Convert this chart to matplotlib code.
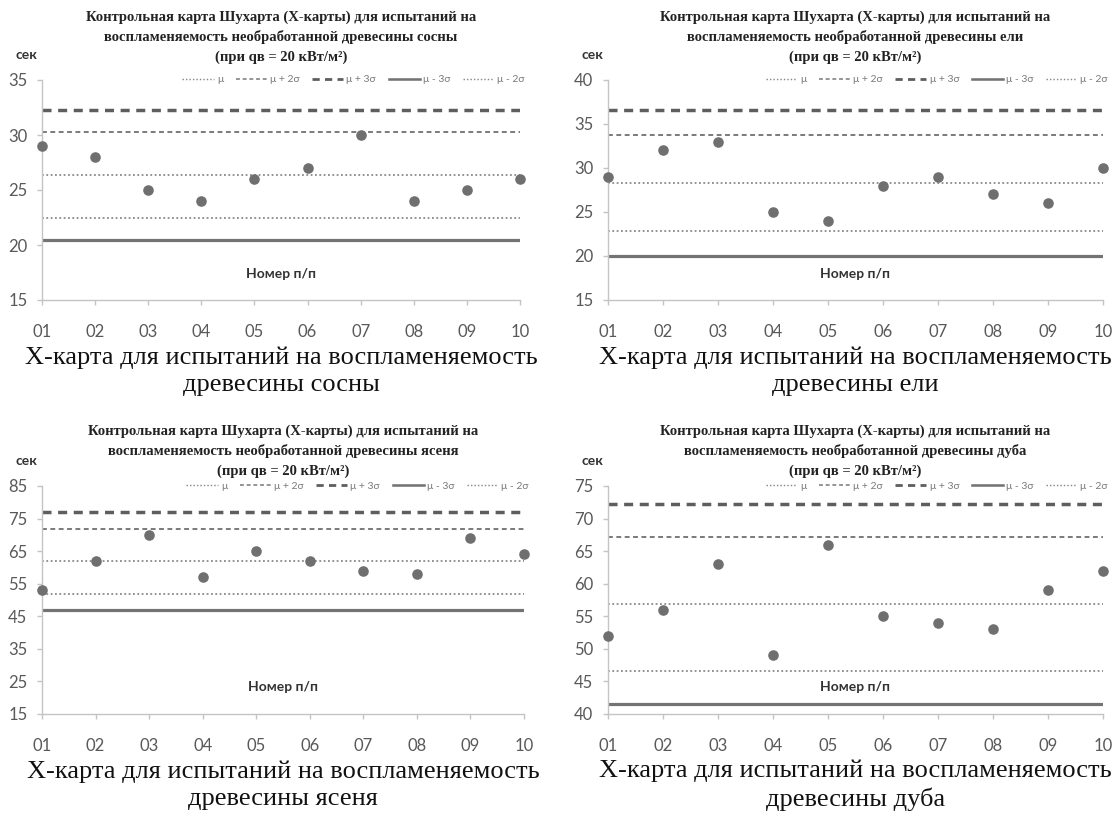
import matplotlib
matplotlib.use("Agg")
import matplotlib.pyplot as plt

# Sample numbers 01..10
samples = ["01", "02", "03", "04", "05", "06", "07", "08", "09", "10"]

# Time to ignition, seconds, per species
pine = [29, 28, 25, 24, 26, 27, 30, 24, 25, 26]
spruce = [29, 32, 33, 25, 24, 28, 29, 27, 26, 30]
ash = [53, 62, 70, 57, 65, 62, 59, 58, 69, 64]
oak = [52, 56, 63, 49, 66, 55, 54, 53, 59, 62]

# Control limits: mu, mu+2s, mu+3s, mu-3s, mu-2s
pine_limits = [26.4, 30.3, 32.3, 20.5, 22.5]
spruce_limits = [28.3, 33.8, 36.6, 20.0, 22.8]
ash_limits = [61.9, 71.9, 76.9, 46.9, 51.9]
oak_limits = [56.9, 67.2, 72.3, 41.5, 46.6]

limit_labels = ["μ", "μ + 2σ", "μ + 3σ", "μ - 3σ", "μ - 2σ"]

# y-axis ranges and tick steps
pine_y = (15, 35, 5)
spruce_y = (15, 40, 5)
ash_y = (15, 85, 10)
oak_y = (40, 75, 5)

species_title = ["сосны", "ели", "ясеня", "дуба"]

W, H = 1116, 814
fig = plt.figure(figsize=(W / 100, H / 100), dpi=100)
fig.patch.set_facecolor("white")

limit_styles = [
    dict(color="#8a8a8a", lw=1.3, ls=(0, (1, 1.4))),
    dict(color="#7a7a7a", lw=1.4, ls=(0, (2.5, 1.8))),
    dict(color="#5e5e5e", lw=2.5, ls=(0, (2.6, 1.9))),
    dict(color="#737373", lw=2.3, ls="-"),
    dict(color="#8a8a8a", lw=1.3, ls=(0, (1, 1.4))),
]

SANS = ["Lato", "DejaVu Sans"]
SERIF = ["Liberation Serif", "DejaVu Serif"]


def px_axes(left, right, top, bottom):
    return fig.add_axes([left / W, 1 - bottom / H, (right - left) / W, (bottom - top) / H])


def panel(box, values, limits, yr, name, title_y, sek_x):
    left, right, top, bottom = box
    ax = px_axes(left, right, top, bottom)
    x = list(range(1, len(samples) + 1))
    for lim, st, lab in zip(limits, limit_styles, limit_labels):
        ax.plot([x[0], x[-1]], [lim, lim], label=lab, **st)
    ax.plot(x, values, "o", color="#6f6f6f", markersize=6.6, clip_on=False, zorder=5)

    ax.set_xlim(x[0], x[-1])
    ax.set_ylim(yr[0], yr[1])
    ax.set_xticks(x)
    ax.set_xticklabels(samples)
    ax.set_yticks(range(yr[0], yr[1] + 1, yr[2]))
    for s in ("top", "right"):
        ax.spines[s].set_visible(False)
    for s in ("left", "bottom"):
        ax.spines[s].set_color("#c4c4c4")
        ax.spines[s].set_linewidth(1.0)
    ax.tick_params(axis="both", colors="#c4c4c4", length=3.5, width=1.0,
                   labelcolor="#595959", labelsize=12)
    ax.tick_params(axis="x", pad=13.5)
    ax.tick_params(axis="y", pad=7)
    for t in ax.get_xticklabels() + ax.get_yticklabels():
        t.set_fontfamily(SANS)

    ax.text(0.5, 0.12, "Номер п/п", transform=ax.transAxes, ha="center", va="center",
            fontsize=10, fontweight="bold", color="#333333", family=SANS)

    leg = ax.legend(loc="lower right", bbox_to_anchor=(1.01, 0.98), ncol=5, frameon=False,
                    fontsize=7.5, handlelength=3.0, columnspacing=1.2, handletextpad=0.3,
                    borderpad=0, borderaxespad=0)
    for t in leg.get_texts():
        t.set_color("#7a7a7a")
        t.set_fontfamily(SANS)
    for h in leg.get_lines():
        h.set_linewidth(h.get_linewidth() * 0.8)

    cx = (left + right) / 2 / W
    title = ("Контрольная карта Шухарта (Х-карты) для испытаний на\n"
             f"воспламеняемость необработанной древесины {name}\n"
             "(при qв = 20 кВт/м²)")
    fig.text(cx, 1 - title_y / H, title, ha="center", va="center", fontsize=10.5,
             fontweight="bold", color="#222222", family=SERIF, linespacing=1.6)
    fig.text(sek_x / W, 1 - (top - 25) / H, "сек", ha="left", va="center", fontsize=10,
             fontweight="bold", color="#333333", family=SANS)

    caption = f"Х-карта для испытаний на воспламеняемость\nдревесины {name}"
    fig.text(cx, 1 - (bottom + 71) / H, caption, ha="center", va="center", fontsize=19,
             color="#111111", family=SERIF, linespacing=1.3)
    return ax


panel((42, 520, 80, 300), pine, pine_limits, pine_y, species_title[0], 37, 15)
panel((608, 1103, 80, 300), spruce, spruce_limits, spruce_y, species_title[1], 37, 582)
panel((42, 524, 486, 714), ash, ash_limits, ash_y, species_title[2], 451, 15)
panel((608, 1103, 486, 714), oak, oak_limits, oak_y, species_title[3], 451, 582)

fig.savefig("out.png", dpi=100, facecolor="white")
